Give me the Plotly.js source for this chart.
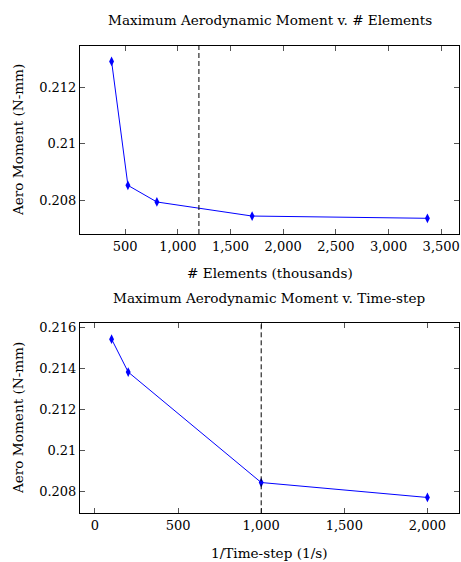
<!DOCTYPE html>
<html>
<head>
<meta charset="utf-8">
<script src="https://cdn.plot.ly/plotly-3.0.1.min.js"></script>
<style>html,body{margin:0;padding:0;background:#fff;}#chart{width:461px;height:562px;}</style>
</head>
<body>
<div id="chart"></div>
<script>
// Top chart data
const elementsK = [371, 526, 801, 1705, 3369];
const momentElements = [0.21293, 0.20853, 0.20794, 0.20744, 0.20736];
const elementsRef = [1200];
const elemTicks = [500, 1000, 1500, 2000, 2500, 3000, 3500];
const elemTickText = ["500", "1,000", "1,500", "2,000", "2,500", "3,000", "3,500"];
const momentTicksTop = [0.208, 0.210, 0.212];
const momentTickTextTop = ["0.208", "0.21", "0.212"];

// Bottom chart data
const invTimeStep = [100, 200, 1000, 2000];
const momentTime = [0.21543, 0.21382, 0.20842, 0.20769];
const timeRef = [1000];
const timeTicks = [0, 500, 1000, 1500, 2000];
const timeTickText = ["0", "500", "1,000", "1,500", "2,000"];
const momentTicksBot = [0.208, 0.210, 0.212, 0.214, 0.216];
const momentTickTextBot = ["0.208", "0.21", "0.212", "0.214", "0.216"];

const FONT = "DejaVu Serif, serif";
const FS = 13;
const TS = 13.6;
const W = 461, H = 562;
const px = v => v / W;
const py = v => 1 - v / H;

function enlarge(arr) {
  const mn = Math.min(...arr), mx = Math.max(...arr);
  const d = (mx - mn) * 0.1;
  return [mn - d, mx + d];
}

const lineStyle = {color: '#0000ff', width: 1};
const markerStyle = {symbol: 'diamond-tall', size: 7, color: '#0000ff', line: {width: 0}};

const traces = [
  {x: elementsK, y: momentElements, xaxis: 'x', yaxis: 'y', mode: 'lines+markers',
   line: lineStyle, marker: markerStyle, showlegend: false, hoverinfo: 'x+y'},
  {x: invTimeStep, y: momentTime, xaxis: 'x2', yaxis: 'y2', mode: 'lines+markers',
   line: lineStyle, marker: markerStyle, showlegend: false, hoverinfo: 'x+y'}
];

const axisCommon = {
  showgrid: false, zeroline: false, showline: true, mirror: 'allticks',
  linecolor: '#000', linewidth: 1, ticks: 'inside', ticklen: 5, tickwidth: 1,
  tickcolor: '#555', tickfont: {family: FONT, size: FS, color: '#000'}, tickmode: 'array'
};

const layout = {
  width: W, height: H,
  margin: {l: 0, r: 0, t: 0, b: 0},
  paper_bgcolor: '#fff', plot_bgcolor: '#fff',
  font: {family: FONT, color: '#000'},
  xaxis: Object.assign({}, axisCommon, {domain: [px(80), px(459)], anchor: 'y',
    range: enlarge(elementsK), tickvals: elemTicks, ticktext: elemTickText}),
  yaxis: Object.assign({}, axisCommon, {domain: [py(234), py(45.7)], anchor: 'x',
    range: enlarge(momentElements), tickvals: momentTicksTop, ticktext: momentTickTextTop}),
  xaxis2: Object.assign({}, axisCommon, {domain: [px(80), px(459)], anchor: 'y2',
    range: enlarge(invTimeStep), tickvals: timeTicks, ticktext: timeTickText}),
  yaxis2: Object.assign({}, axisCommon, {domain: [py(513.3), py(323.3)], anchor: 'x2',
    range: enlarge(momentTime), tickvals: momentTicksBot, ticktext: momentTickTextBot}),
  shapes: [
    {type: 'line', xref: 'x', yref: 'y domain', x0: elementsRef[0], x1: elementsRef[0], y0: 0, y1: 1,
     line: {color: '#000', width: 1, dash: '5px,3px'}},
    {type: 'line', xref: 'x2', yref: 'y2 domain', x0: timeRef[0], x1: timeRef[0], y0: 0, y1: 1,
     line: {color: '#000', width: 1, dash: '5px,3px'}}
  ],
  annotations: [
    {text: 'Maximum Aerodynamic Moment v. # Elements', xref: 'paper', yref: 'paper',
     x: px(269.5), y: py(20), xanchor: 'center', yanchor: 'middle', showarrow: false,
     font: {family: FONT, size: TS, color: '#000'}},
    {text: '# Elements (thousands)', xref: 'paper', yref: 'paper',
     x: px(269.5), y: py(273), xanchor: 'center', yanchor: 'middle', showarrow: false,
     font: {family: FONT, size: TS, color: '#000'}},
    {text: 'Aero Moment (N-mm)', xref: 'paper', yref: 'paper', textangle: -90,
     x: px(18), y: py(140), xanchor: 'center', yanchor: 'middle', showarrow: false,
     font: {family: FONT, size: TS, color: '#000'}},
    {text: 'Maximum Aerodynamic Moment v. Time-step', xref: 'paper', yref: 'paper',
     x: px(269.5), y: py(298), xanchor: 'center', yanchor: 'middle', showarrow: false,
     font: {family: FONT, size: TS, color: '#000'}},
    {text: '1/Time-step (1/s)', xref: 'paper', yref: 'paper',
     x: px(269.5), y: py(553), xanchor: 'center', yanchor: 'middle', showarrow: false,
     font: {family: FONT, size: TS, color: '#000'}},
    {text: 'Aero Moment (N-mm)', xref: 'paper', yref: 'paper', textangle: -90,
     x: px(18), y: py(418), xanchor: 'center', yanchor: 'middle', showarrow: false,
     font: {family: FONT, size: TS, color: '#000'}}
  ]
};

Plotly.newPlot('chart', traces, layout, {staticPlot: true, displayModeBar: false});
</script>
</body>
</html>
